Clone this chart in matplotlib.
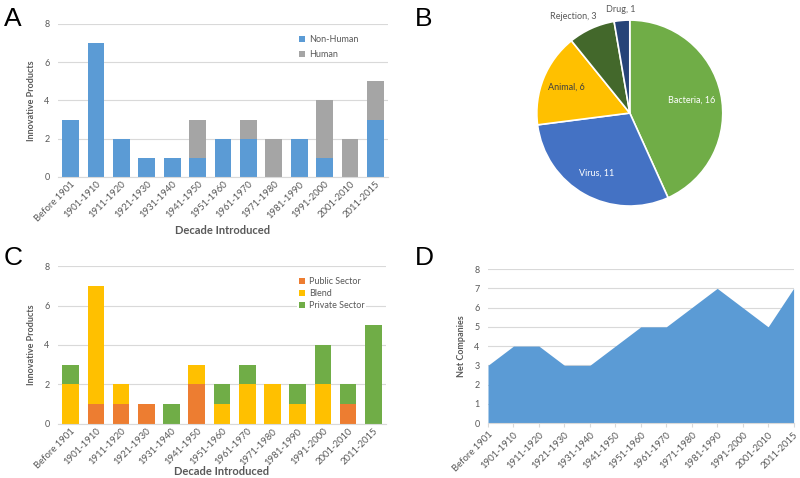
import numpy as np
import matplotlib.pyplot as plt

plt.rcParams['font.family'] = ['Lato', 'DejaVu Sans']

# Data
decades = ['Before 1901', '1901-1910', '1911-1920', '1921-1930', '1931-1940',
           '1941-1950', '1951-1960', '1961-1970', '1971-1980', '1981-1990',
           '1991-2000', '2001-2010', '2011-2015']

non_human = [3, 7, 2, 1, 1, 1, 2, 2, 0, 2, 1, 0, 3]
human = [0, 0, 0, 0, 0, 2, 0, 1, 2, 0, 3, 2, 2]

pie_labels = ['Bacteria', 'Virus', 'Animal', 'Rejection', 'Drug']
pie_values = [16, 11, 6, 3, 1]

public_sector = [0, 1, 1, 1, 0, 2, 0, 0, 0, 0, 0, 1, 0]
blend = [2, 6, 1, 0, 0, 1, 1, 2, 2, 1, 2, 0, 0]
private_sector = [1, 0, 0, 0, 1, 0, 1, 1, 0, 1, 2, 1, 5]

net_companies = [3, 4, 4, 3, 3, 4, 5, 5, 6, 7, 6, 5, 7]

# Colours
BLUE = '#5B9BD5'
GRAY = '#A5A5A5'
ORANGE = '#ED7D31'
GOLD = '#FFC000'
GREEN = '#70AD47'
TXT = '#595959'
GRID = '#D9D9D9'

fig = plt.figure(figsize=(8, 4.78), dpi=100)


def style_axes(ax, yticks):
    ax.set_ylim(0, 8)
    ax.set_yticks(yticks)
    for s in ['top', 'right', 'left']:
        ax.spines[s].set_visible(False)
    ax.spines['bottom'].set_color(GRID)
    ax.grid(axis='y', color=GRID, linewidth=0.8)
    ax.set_axisbelow(True)
    ax.tick_params(axis='y', length=0, labelsize=6.5, labelcolor=TXT, pad=6)
    ax.tick_params(axis='x', length=0, labelsize=6.8, labelcolor=TXT, pad=2)
    ax.set_xticks(np.arange(len(decades)))
    ax.set_xticklabels(decades, rotation=45, ha='right', rotation_mode='anchor')


x = np.arange(len(decades))
bw = 0.66

# Panel A
axA = fig.add_axes([0.0725, 0.63, 0.4125, 0.32])
axA.bar(x, non_human, bw, color=BLUE, label='Non-Human')
axA.bar(x, human, bw, bottom=non_human, color=GRAY, label='Human')
style_axes(axA, [0, 2, 4, 6, 8])
axA.set_xlim(-0.5, len(decades) - 0.5)
axA.set_ylabel('Innovative Products', fontsize=6.5, fontweight='bold', color=TXT, labelpad=6)
axA.set_xlabel('Decade Introduced', fontsize=8, fontweight='bold', color=TXT, labelpad=1)
axA.legend(loc='upper left', bbox_to_anchor=(0.705, 0.98), frameon=False, fontsize=6.5,
           handlelength=0.7, handleheight=0.7, handletextpad=0.4, labelspacing=0.7,
           labelcolor=TXT)

# Panel B
axB = fig.add_axes([0.671, 0.569, 0.2325, 0.389])
pie_colors = [GREEN, '#4472C4', GOLD, '#43682B', '#264478']
wedges, _ = axB.pie(pie_values, colors=pie_colors, startangle=90, counterclock=False,
                    wedgeprops=dict(edgecolor='white', linewidth=1.2))
label_r = [0.68, 0.74, 0.74, 1.2, 1.12]
label_shift = [0, 0, 0, 6, 0]
label_c = ['white', 'white', '#404040', TXT, TXT]
for w, name, v, r, sh, c in zip(wedges, pie_labels, pie_values, label_r, label_shift, label_c):
    ang = np.deg2rad((w.theta1 + w.theta2) / 2 + sh)
    axB.text(r * np.cos(ang), r * np.sin(ang), f'{name}, {v}', ha='center', va='center',
             fontsize=6.5, color=c)
axB.set_xlim(-1, 1)
axB.set_ylim(-1, 1)
axB.axis('off')

# Panel C
axC = fig.add_axes([0.0725, 0.113, 0.41, 0.3305])
bot2 = np.array(public_sector) + np.array(blend)
axC.bar(x, public_sector, bw, color=ORANGE, label='Public Sector')
axC.bar(x, blend, bw, bottom=public_sector, color=GOLD, label='Blend')
axC.bar(x, private_sector, bw, bottom=bot2, color=GREEN, label='Private Sector')
style_axes(axC, [0, 2, 4, 6, 8])
axC.set_xlim(-0.5, len(decades) - 0.5)
axC.set_ylabel('Innovative Products', fontsize=6.5, fontweight='bold', color=TXT, labelpad=6)
axC.set_xlabel('Decade Introduced', fontsize=8, fontweight='bold', color=TXT, labelpad=-3)
leg = axC.legend(loc='upper left', bbox_to_anchor=(0.715, 0.97), frameon=True, fontsize=6.5,
                 handlelength=0.7, handleheight=0.7, handletextpad=0.4, labelspacing=0.35,
                 labelcolor=TXT, borderpad=0.2, fancybox=False)
leg.get_frame().set_edgecolor('none')
leg.get_frame().set_facecolor('white')
leg.get_frame().set_alpha(1)

# Panel D
axD = fig.add_axes([0.61, 0.115, 0.382, 0.322])
axD.fill_between(x, net_companies, color=BLUE, linewidth=0)
style_axes(axD, range(0, 9))
axD.set_xlim(0, len(decades) - 1)
axD.tick_params(axis='x', length=3, color=GRID)
axD.set_ylabel('Net Companies', fontsize=6.5, fontweight='bold', color=TXT, labelpad=6)

# Panel letters
for lx, ly, t in [(0.005, 0.985, 'A'), (0.518, 0.985, 'B'), (0.005, 0.485, 'C'), (0.518, 0.485, 'D')]:
    fig.text(lx, ly, t, fontsize=19, va='top', ha='left', family=['Liberation Sans'])

fig.savefig('out.png', dpi=100)
